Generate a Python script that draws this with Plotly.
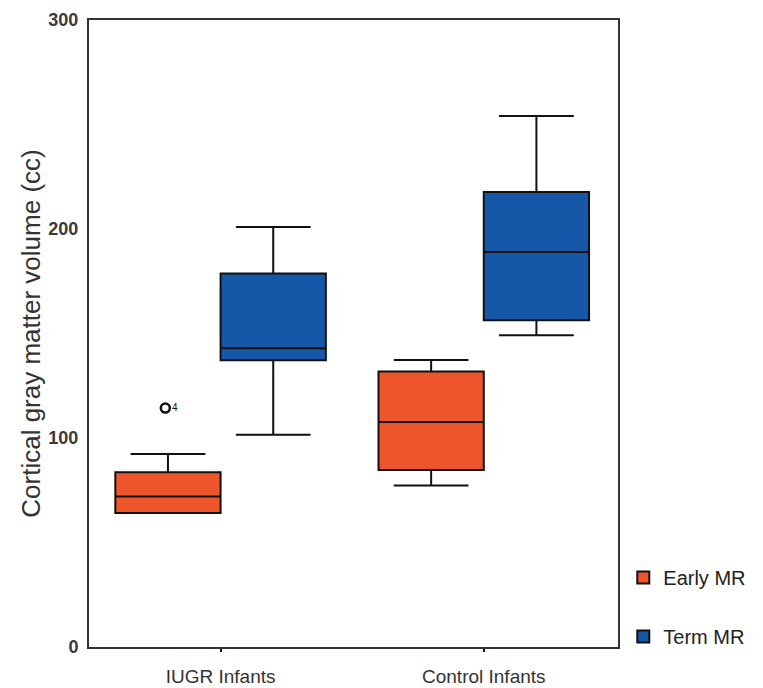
import plotly.graph_objects as go

# ---- data ----
categories = ["IUGR Infants", "Control Infants"]
series_names = ["Early MR", "Term MR"]

early_lower = [64.1, 77.3]
early_q1 = [64.1, 84.7]
early_median = [72.0, 107.7]
early_q3 = [83.6, 131.8]
early_upper = [92.3, 137.3]

term_lower = [101.6, 149.2]
term_q1 = [137.2, 156.3]
term_median = [142.9, 189.0]
term_q3 = [178.7, 217.7]
term_upper = [200.9, 254.1]

outlier_category = ["IUGR Infants"]
outlier_values = [114.3]
outlier_labels = ["4"]

y_ticks = [0, 100, 200, 300]

# ---- styling ----
colors = {"Early MR": "#EE552B", "Term MR": "#1657A8"}
offsets = {"Early MR": -0.2, "Term MR": 0.2}
box_width = 0.4
FONT = "Liberation Sans, Arial, sans-serif"

stats = {
    "Early MR": (early_lower, early_q1, early_median, early_q3, early_upper),
    "Term MR": (term_lower, term_q1, term_median, term_q3, term_upper),
}

fig = go.Figure()
for name in series_names:
    lo, q1, med, q3, hi = stats[name]
    for i, cat in enumerate(categories):
        fig.add_trace(go.Box(
            x=[i + offsets[name]],
            lowerfence=[lo[i]], q1=[q1[i]], median=[med[i]], q3=[q3[i]], upperfence=[hi[i]],
            width=box_width,
            whiskerwidth=0.71,
            fillcolor=colors[name],
            line=dict(color="#111111", width=2),
            name=name,
            legendgroup=name,
            showlegend=(i == 0),
            boxpoints=False,
            hoverinfo="skip",
        ))

fig.add_trace(go.Scatter(
    x=[categories.index(c) + offsets["Early MR"] - 0.01 for c in outlier_category],
    y=outlier_values,
    mode="markers+text",
    marker=dict(symbol="circle-open", size=9, color="#111111", line=dict(width=2.5, color="#111111")),
    text=outlier_labels,
    textposition="middle right",
    textfont=dict(size=10, color="#111111", family=FONT),
    showlegend=False,
    hoverinfo="skip",
))

# the page adds an 8px body margin, so the figure is sized to fit the 763x688 window
fig.update_layout(
    width=755, height=680,
    margin=dict(l=81, r=141, t=12, b=41),
    paper_bgcolor="white", plot_bgcolor="white",
    font=dict(family=FONT, color="#333333"),
    boxmode="overlay",
    legend=dict(
        x=1.01, xanchor="left", y=-0.0144, yanchor="bottom",
        font=dict(size=20, color="#222222", family=FONT),
        traceorder="grouped", tracegroupgap=30,
        bgcolor="rgba(0,0,0,0)",
    ),
)
fig.update_xaxes(
    range=[-0.5, 1.51],
    tickvals=list(range(len(categories))), ticktext=categories,
    ticks="outside", ticklen=3, tickwidth=2, tickcolor="#111111",
    tickfont=dict(size=19, color="#333333"),
    ticklabelstandoff=8, ticklabeloverflow="allow",
    showline=True, linecolor="#333333", linewidth=2, mirror=True,
    showgrid=False, zeroline=False, automargin=False,
)
fig.update_yaxes(
    range=[0, 300],
    tickvals=y_ticks,
    ticks="", tickfont=dict(size=18, color="#3a3a3a", weight="bold"),
    ticklabelstandoff=5, ticklabeloverflow="allow",
    showline=True, linecolor="#333333", linewidth=2, mirror=True,
    showgrid=False, zeroline=False, automargin=False,
    title=dict(text="Cortical gray matter volume (cc)", font=dict(size=26, color="#333333"), standoff=0),
)

fig.write_html("out.html")
